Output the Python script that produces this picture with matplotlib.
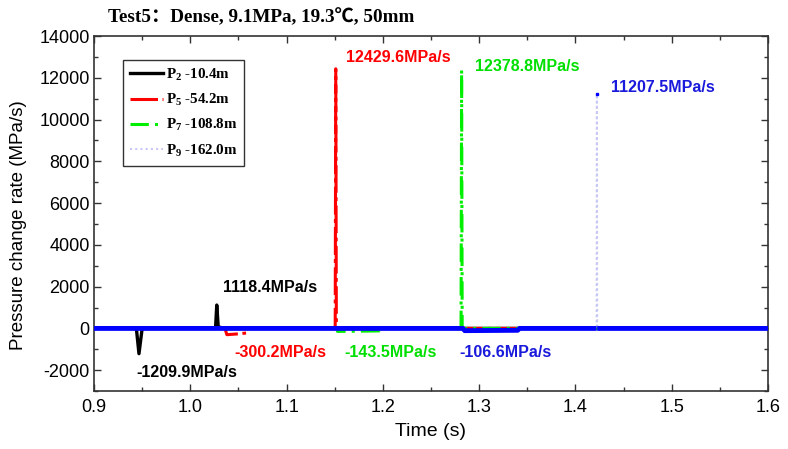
import numpy as np
import matplotlib
matplotlib.use("Agg")
import matplotlib.pyplot as plt

# ---- data ----
p2_t = [0.90, 0.944, 0.9467, 0.950, 1.0262, 1.0275, 1.0290, 1.035, 1.60]
p2_v = [0, 0, -1209.9, 0, 0, 1118.4, 80, 0, 0]

p5_t = [0.90, 1.036, 1.038, 1.050, 1.058, 1.060, 1.1505, 1.1511, 1.1517, 1.60]
p5_v = [0, 0, -300.2, -260, -220, 0, 0, 12429.6, 0, 0]

p7_t = [0.90, 1.1517, 1.153, 1.196, 1.198, 1.2812, 1.2818, 1.2824, 1.60]
p7_v = [0, 0, -143.5, -120, 0, 0, 12378.8, 0, 0]

p9_t = [0.90, 1.2832, 1.285, 1.340, 1.342, 1.4220, 1.4223, 1.4226, 1.60]
p9_v = [0, 0, -106.6, -90, 0, 0, 11207.5, 0, 0]

labels = ["P$_{2}$ -10.4m", "P$_{5}$ -54.2m", "P$_{7}$ -108.8m", "P$_{9}$ -162.0m"]

annotations = [
    ("12429.6MPa/s", 1.162, 12990, "#ff0000"),
    ("12378.8MPa/s", 1.296, 12560, "#00e000"),
    ("11207.5MPa/s", 1.437, 11550, "#1a1adc"),
    ("1118.4MPa/s", 1.034, 1970, "black"),
    ("-1209.9MPa/s", 0.944, -2090, "black"),
    ("-300.2MPa/s", 1.046, -1140, "#ff0000"),
    ("-143.5MPa/s", 1.160, -1140, "#00e000"),
    ("-106.6MPa/s", 1.279, -1140, "#1a1adc"),
]

title = "Test5：Dense, 9.1MPa, 19.3℃, 50mm"
xticks = [0.9, 1.0, 1.1, 1.2, 1.3, 1.4, 1.5, 1.6]
yticks = [-2000, 0, 2000, 4000, 6000, 8000, 10000, 12000, 14000]

# ---- plotting ----
plt.rcParams['font.family'] = ['Liberation Sans', 'DejaVu Sans']
plt.rcParams['axes.unicode_minus'] = False
plt.rcParams['mathtext.fontset'] = 'custom'
plt.rcParams['mathtext.rm'] = 'Liberation Serif:bold'
plt.rcParams['mathtext.it'] = 'Liberation Serif:bold'
plt.rcParams['mathtext.bf'] = 'Liberation Serif:bold'

fig = plt.figure(figsize=(7.88, 4.49), dpi=100)
ax = fig.add_axes([0.1193, 0.1290, 0.8553, 0.7908])

ax.plot(p2_t, p2_v, color="black", lw=2.4, linestyle="-", label=labels[0], zorder=3)
ax.plot(p5_t, p5_v, color="#ff0000", lw=2.2, linestyle=(0, (9, 1.5, 1.2, 1.5)), label=labels[1], zorder=3)
ax.plot(p7_t, p7_v, color="#00ee00", lw=2.2, linestyle=(0, (6, 2, 1, 2)), label=labels[2], zorder=3)
ax.plot(p9_t, p9_v, color="#c8c8f5", lw=1.5, linestyle=(0, (1, 1.5)), label=labels[3], zorder=3)

# thick solid blue baseline part of P9 (spike masked)
p9_arr = np.array(p9_v, dtype=float)
p9_base = np.where(p9_arr > 1000, np.nan, p9_arr)
ax.plot(p9_t, p9_base, color="#0000ff", lw=3.5, solid_capstyle="butt", zorder=4)
imax = int(np.argmax(p9_arr))
ax.plot([p9_t[imax]], [p9_arr[imax]], "s", color="#0000ff", ms=1.6, zorder=5)

for txt, x, y, c in annotations:
    ax.text(x, y, txt, color=c, fontsize=11.5, fontweight="bold", ha="left", va="center",
            family=['Liberation Sans'])

ax.set_xlim(0.9, 1.6)
ax.set_ylim(-3000, 14000)
ax.set_xticks(xticks)
ax.set_xticklabels([f"{v:.1f}" for v in xticks])
ax.set_yticks(yticks)
ax.set_xticks(np.arange(0.95, 1.6, 0.1), minor=True)
ax.set_yticks(np.arange(-3000, 14000, 2000), minor=True)
ax.tick_params(which="both", direction="in", top=True, right=True, labelsize=13, color="#333333")
ax.tick_params(which="major", length=5, width=1)
ax.tick_params(which="minor", length=3, width=1)
ax.tick_params(axis="x", which="major", pad=6, labeltop=False)
ax.tick_params(axis="y", which="major", pad=3)
for s in ax.spines.values():
    s.set_color("#333333")
    s.set_linewidth(1.2)

ax.set_xlabel("Time (s)", fontsize=14, labelpad=5)
ax.set_ylabel("Pressure change rate (MPa/s)", fontsize=13.5)
ax.yaxis.set_label_coords(-0.100, 0.466)

leg = ax.legend(loc="upper left", bbox_to_anchor=(0.043, 0.933), borderaxespad=0, frameon=True,
                fancybox=False, shadow=False, handlelength=2.2, labelspacing=0.62, borderpad=0.45,
                handletextpad=0.2,
                prop={'family': 'Liberation Serif', 'weight': 'bold', 'size': 10.8})
leg.get_frame().set_edgecolor("black")
leg.get_frame().set_linewidth(1.0)

fig.text(0.137, 1 - 17 / 449, title, fontsize=13.8, fontweight="bold", va="center", ha="left",
         family=['Liberation Serif', 'Noto Sans CJK SC'])

fig.savefig("out.png", dpi=100)
